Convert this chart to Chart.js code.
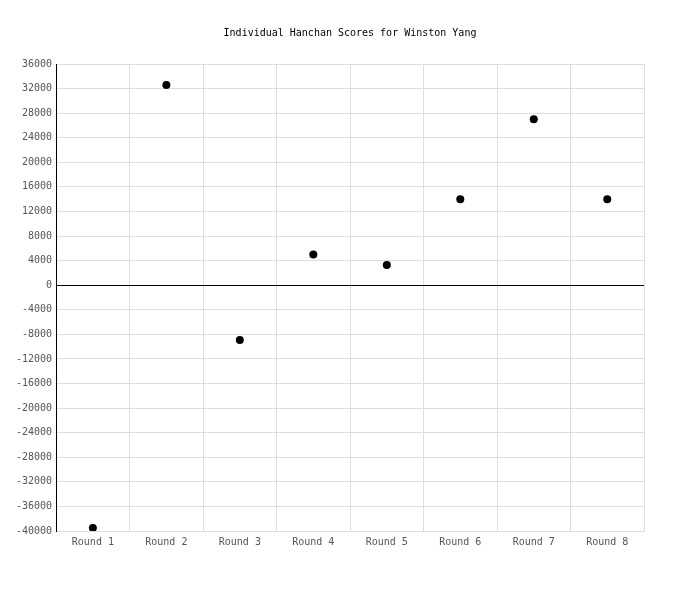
<!DOCTYPE html>
<html>
<head>
<meta charset="utf-8">
<script src="https://cdn.jsdelivr.net/npm/chart.js@4"></script>
<style>
html,body{margin:0;padding:0;background:#fff;}
#wrap{width:700px;height:600px;}
</style>
</head>
<body>
<div id="wrap"><canvas id="c" width="700" height="600"></canvas></div>
<script>
const chartTitle = "Individual Hanchan Scores for Winston Yang";
const categories = ["Round 1","Round 2","Round 3","Round 4","Round 5","Round 6","Round 7","Round 8"];
const scores = [-39500, 32600, -8900, 5000, 3300, 14000, 27000, 14000];
const yMin = -40000, yMax = 36000, yStep = 4000;

const FONT = "'DejaVu Sans Mono', 'Liberation Mono', monospace";

new Chart(document.getElementById('c'), {
  type: 'line',
  data: {
    labels: categories,
    datasets: [{
      data: scores,
      showLine: false,
      pointRadius: 4,
      pointHoverRadius: 4,
      pointBackgroundColor: '#000',
      pointBorderColor: '#000',
      pointBorderWidth: 0
    }]
  },
  options: {
    responsive: false,
    animation: false,
    events: [],
    layout: { padding: { left: 12, right: 12, top: 0, bottom: 47 } },
    plugins: {
      legend: { display: false },
      tooltip: { enabled: false },
      title: {
        display: true,
        text: chartTitle,
        color: '#000',
        font: { family: FONT, size: 10, weight: 'normal' },
        padding: { top: 27, bottom: 25 }
      }
    },
    scales: {
      x: {
        offset: true,
        grid: { offset: true, color: '#dddddd', drawTicks: false, lineWidth: 1 },
        border: { color: '#dddddd' },
        ticks: { color: '#555', font: { family: FONT, size: 10 }, padding: 5 }
      },
      y: {
        min: yMin, max: yMax,
        grid: {
          color: ctx => (ctx.tick && ctx.tick.value === 0) ? '#000' : '#dddddd',
          drawTicks: false
        },
        border: { color: '#000' },
        ticks: {
          stepSize: yStep, color: '#555', font: { family: FONT, size: 10 }, padding: 4,
          callback: v => String(v)
        }
      },
      ySpacer: {
        position: 'right',
        min: yMin, max: yMax,
        grid: { display: false, drawTicks: false },
        border: { display: false },
        ticks: { display: false },
        afterFit: s => { s.width = 44; }
      }
    }
  }
});
</script>
</body>
</html>
